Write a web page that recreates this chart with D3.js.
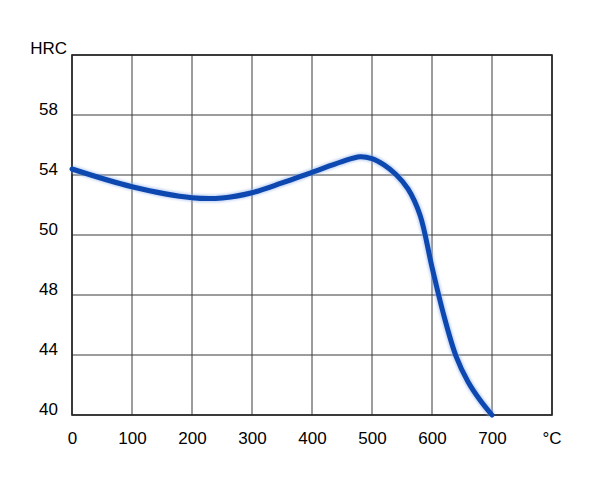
<!DOCTYPE html>
<html>
<head>
<meta charset="utf-8">
<script src="https://cdn.jsdelivr.net/npm/d3@7"></script>
<style>
html,body{margin:0;padding:0;background:#fff;}
svg{display:block;font-family:"Liberation Sans",Arial,sans-serif;}
</style>
</head>
<body>
<svg id="chart" width="600" height="481"></svg>
<script>
// Data
const xTicks = [0, 100, 200, 300, 400, 500, 600, 700];
const xUnit = "°C";
const yTicks = [40, 44, 48, 50, 54, 58];
const yUnit = "HRC";
const temperature = [0, 100, 200, 250, 300, 350, 400, 450, 480, 500, 520, 540, 560, 580, 600, 620, 640, 660, 680, 700];
const hardness =    [54.4, 53.22, 52.49, 52.47, 52.82, 53.47, 54.18, 54.89, 55.22, 55.09, 54.67, 54.03, 53.07, 51.33, 48.93, 46.6, 43.93, 42.22, 41.0, 40.0];

(function () {
const svg = d3.select("#chart");
const pL = 72, pR = 552, pT = 55, pB = 415;
const fs = 17;

const x = d3.scaleLinear().domain([0, 800]).range([pL, pR]);
// Non-uniform tick labels are equally spaced rows, so use a piecewise scale
const yDomain = yTicks.concat([62]);
const y = d3.scaleLinear().domain(yDomain)
  .range(yDomain.map((d, i) => pB - i * (pB - pT) / (yDomain.length - 1)));

// Grid
const g = svg.append("g");
g.selectAll("line.v").data(xTicks.concat([800])).join("line")
  .attr("x1", d => x(d)).attr("x2", d => x(d))
  .attr("y1", pT).attr("y2", pB)
  .attr("stroke", "#3a3a3a").attr("stroke-width", 1);
g.selectAll("line.h").data(yDomain).join("line")
  .attr("x1", pL).attr("x2", pR)
  .attr("y1", d => y(d)).attr("y2", d => y(d))
  .attr("stroke", "#3a3a3a").attr("stroke-width", 1);
g.append("rect").attr("x", pL).attr("y", pT)
  .attr("width", pR - pL).attr("height", pB - pT)
  .attr("fill", "none").attr("stroke", "#222").attr("stroke-width", 1.6);

// Axes labels
const xAxis = d3.axisBottom(x).tickValues(xTicks).tickSize(0).tickPadding(0);
const gx = svg.append("g").attr("transform", `translate(0,${pB})`).call(xAxis);
gx.select(".domain").remove();
gx.selectAll("text").attr("font-size", fs).attr("fill", "#000")
  .attr("font-family", "Liberation Sans, Arial, sans-serif").attr("dy", null).attr("y", 29);
svg.append("text").attr("x", x(800)).attr("y", pB + 29).attr("text-anchor", "middle")
  .attr("font-size", fs).attr("fill", "#000").text(xUnit);

const yAxis = d3.axisLeft(y).tickValues(yTicks).tickSize(0).tickPadding(0);
const gy = svg.append("g").call(yAxis);
gy.select(".domain").remove();
gy.selectAll("text").attr("font-size", fs).attr("fill", "#000")
  .attr("font-family", "Liberation Sans, Arial, sans-serif")
  .attr("x", 58).attr("dy", null).attr("y", -1);
svg.append("text").attr("x", 67).attr("y", 54).attr("text-anchor", "end")
  .attr("font-size", fs).attr("fill", "#000").text(yUnit);

// Curve
const line = d3.line().x((d, i) => x(temperature[i])).y(d => y(d)).curve(d3.curveCatmullRom.alpha(0.5));
const defs = svg.append("defs");
defs.append("filter").attr("id", "blur").append("feGaussianBlur").attr("stdDeviation", 1.2);
svg.append("path").datum(hardness).attr("d", line)
  .attr("fill", "none").attr("stroke", "#8fb0ea").attr("stroke-width", 8)
  .attr("stroke-opacity", 0.5).attr("filter", "url(#blur)");
svg.append("path").datum(hardness).attr("d", line)
  .attr("fill", "none").attr("stroke", "#0d47b0").attr("stroke-width", 5)
  .attr("stroke-linecap", "round");
})();
</script>
</body>
</html>
